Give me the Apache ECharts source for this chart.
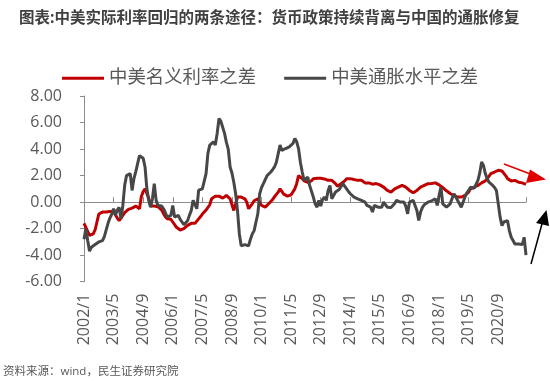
<!DOCTYPE html>
<html>
<head>
<meta charset="utf-8">
<script src="https://cdn.jsdelivr.net/npm/echarts@6/dist/echarts.min.js"></script>
<style>
html,body{margin:0;padding:0;background:#fff;}
#chart{width:550px;height:381px;}
</style>
</head>
<body>
<div id="chart"></div>
<script>
// ---- Data ----
const titleText = '图表:中美实际利率回归的两条途径：货币政策持续背离与中国的通胀修复';
const sourceText = '资料来源：wind，民生证券研究院';
const seriesNames = ['中美名义利率之差', '中美通胀水平之差'];
const startYear = 2002, monthCount = 240, labelEvery = 16;
const categories = [];
for (let i = 0; i < monthCount; i++) {
  categories.push((startYear + Math.floor(i / 12)) + '/' + (i % 12 + 1));
}
const yTicks = [-6, -4, -2, 0, 2, 4, 6, 8];

// 中美名义利率之差 (monthly, 2002/1 - 2021/12)
const nominalDiff = [
  -1.6, -1.9, -2.2, -2.5, -2.65, -2.4, -2.1, -1.5, -0.9, -0.8, -0.75, -0.8,
  -0.75, -0.7, -0.7, -0.75, -0.7, -0.55, -1.2, -1.4, -1.5, -1.0, -0.8, -0.65,
  -0.55, -0.5, -0.45, -0.4, -0.3, -0.35, -0.5, 0.4, 0.8, 1.0, 0.9, 0.3,
  -0.3, -0.4, -0.3, -0.3, -0.35, -0.4, -0.6, -0.87, -1.1, -1.26, -1.2, -1.3,
  -1.5, -1.7, -1.9, -2.0, -2.1, -2.05, -2.0, -1.85, -1.75, -1.7, -1.6, -1.6,
  -1.6, -1.45, -1.26, -1.1, -0.9, -0.75, -0.6, -0.45, -0.2, 0.25, 0.35, 0.45,
  0.5, 0.45, 0.38, 0.3, 0.25, 0.5, 0.38, 0.25, 0.13, -0.63, -0.6, 0.38,
  0.38, 0.38, 0.3, 0.25, 0.0, -0.5, -0.3, -0.13, 0.1, 0.15, 0.25, 0.0,
  -0.25, -0.3, -0.38, -0.25, -0.1, 0.0, 0.2, 0.4, 0.5, 0.75, 1.0, 0.9,
  0.6, 0.5, 0.45, 0.44, 0.55, 0.63, 1.0, 1.39, 2.0, 1.9, 1.77, 1.6,
  1.55, 1.5, 1.5, 1.6, 1.77, 1.75, 1.8, 1.77, 1.8, 1.89, 1.75, 1.64,
  1.64, 1.6, 1.64, 1.5, 1.39, 1.2, 1.13, 1.39, 1.5, 1.6, 1.77, 1.75,
  1.77, 1.77, 1.7, 1.64, 1.64, 1.64, 1.64, 1.5, 1.45, 1.39, 1.45, 1.5,
  1.35, 1.26, 1.4, 1.5, 1.3, 1.26, 1.13, 1.0, 0.88, 0.8, 0.76, 0.85,
  1.0, 1.05, 1.13, 1.2, 1.26, 1.2, 1.13, 1.0, 0.88, 0.8, 0.7, 0.76,
  0.88, 1.0, 1.13, 1.2, 1.26, 1.35, 1.39, 1.39, 1.4, 1.5, 1.45, 1.39,
  1.3, 1.26, 1.1, 1.0, 0.85, 0.76, 0.65, 0.6, 0.5, 0.45, 0.38, 0.38,
  0.38, 0.45, 0.5, 0.65, 0.76, 1.0, 1.05, 1.13, 1.2, 1.26, 1.35, 1.45,
  1.5, 1.6, 1.77, 1.95, 2.15, 2.2, 2.27, 2.35, 2.4, 2.4, 2.35, 2.2,
  2.0, 1.77, 1.65, 1.6, 1.62, 1.64, 1.55, 1.5, 1.5, 1.45, 1.34, 1.34
];

// 中美通胀水平之差 (monthly, 2002/1 - 2021/12)
const inflationDiff = [
  -2.8, -2.0, -2.9, -3.7, -3.4, -3.4, -3.2, -3.1, -3.0, -3.0, -2.9, -2.6,
  -2.1, -1.6, -1.2, -0.9, -0.5, -1.0, -0.6, -0.4, -1.26, -0.25, 1.26, 2.0,
  2.1, 2.15, 0.88, 1.77, 2.3, 2.9, 3.5, 3.54, 3.3, 2.65, 1.0, 0.13,
  -0.38, 0.25, 1.39, 0.13, -0.25, -0.25, -0.3, -0.5, -0.8, -1.13, -1.05, -1.0,
  -0.25, -1.13, -1.05, -1.0, -1.3, -1.5, -1.7, -1.77, -1.4, -1.0, -0.63, 0.13,
  0.1, -0.5, 0.9, 0.9, 1.0, 1.13, 2.15, 3.67, 4.3, 4.17, 4.55, 4.3,
  5.18, 6.3, 6.1, 6.05, 5.18, 4.5, 4.0, 2.65, 2.2, 1.5, 0.63, -0.63,
  -2.4, -3.3, -3.25, -3.2, -3.25, -3.3, -2.8, -2.4, -2.15, -1.5, -0.88, 0.63,
  1.1, 1.39, 1.7, 2.0, 2.15, 2.27, 2.45, 2.65, 3.0, 3.1, 4.3, 3.9,
  3.95, 4.04, 4.1, 4.17, 4.3, 4.42, 4.8, 4.55, 4.04, 3.0, 2.27, 1.64,
  1.64, 1.89, 1.26, 1.13, 0.38, -0.13, -0.38, 0.13, -0.3, 0.2, 0.38, 0.13,
  0.88, 1.26, 0.25, 0.38, 0.76, 0.88, 0.95, 1.0, 1.39, 1.5, 1.0, 0.8,
  0.63, 0.5, 0.38, 0.5, 0.25, 0.13, 0.13, 0.13, 0.0, -0.25, -0.3, -0.38,
  -0.75, -0.25, -0.35, -0.38, -0.38, -0.38, 0.0, -0.2, -0.38, -0.5, -0.4, -0.25,
  -0.1, 0.13, 0.25, 0.0, -0.13, 0.0, -0.3, -0.88, 0.0, -0.13, 0.13, -0.25,
  -0.63, -1.39, -0.75, -0.4, -0.2, -0.13, 0.0, 0.13, 0.1, 0.2, 0.25, -0.25,
  0.5, 1.13, -0.13, -0.25, -0.38, -0.3, -0.13, 0.25, 0.63, 0.4, 0.25, -0.13,
  -0.38, -0.5, 0.38, 0.7, 0.88, 1.13, 1.0, 1.05, 1.13, 1.64, 2.2, 3.03,
  2.77, 2.15, 1.77, 1.5, 1.39, 1.26, 1.1, 0.88, -0.13, -1.13, -1.77, -1.5,
  -1.45, -1.39, -2.15, -2.65, -2.9, -3.16, -3.28, -3.16, -3.28, -3.2, -2.65, -4.0
];

// ---- Chart ----
const FONT = '"Open Sans", "Noto Sans CJK SC", sans-serif';
const chart = echarts.init(document.getElementById('chart'), null, {renderer: 'canvas'});
const lastIdx = monthCount - 1;
const option = {
  animation: false,
  backgroundColor: '#ffffff',
  title: {
    text: titleText,
    left: 14, top: 6,
    textStyle: {fontFamily: FONT, fontSize: 15.5, fontWeight: 'bold', color: '#404040'}
  },
  legend: {
    data: seriesNames,
    left: 57, top: 64,
    icon: 'rect',
    itemWidth: 42, itemHeight: 3, itemGap: 28,
    textStyle: {fontFamily: FONT, fontSize: 18.4, color: '#595959'}
  },
  grid: {left: 84, right: 24, top: 96, bottom: 99.3, containLabel: false},
  xAxis: [
    {
      type: 'category', data: categories, boundaryGap: false,
      axisLine: {onZero: true, lineStyle: {color: '#8c8c8c', width: 1}},
      axisTick: {show: true, inside: true, length: 5, interval: (i) => i % labelEvery === 0 || i === lastIdx,
        lineStyle: {color: '#8c8c8c'}},
      axisLabel: {show: false},
      splitLine: {show: false}
    },
    {
      type: 'category', data: categories, boundaryGap: false, position: 'bottom',
      axisLine: {show: false, onZero: false},
      axisTick: {show: false},
      axisLabel: {show: true, interval: (i) => i % labelEvery === 0, rotate: 90, margin: 12,
        fontFamily: FONT, fontSize: 16, color: '#595959'},
      splitLine: {show: false}
    }
  ],
  yAxis: {
    type: 'value', min: yTicks[0], max: yTicks[yTicks.length - 1], interval: 2,
    axisLine: {show: true, lineStyle: {color: '#8c8c8c'}},
    axisTick: {show: true, length: 4, lineStyle: {color: '#8c8c8c'}},
    axisLabel: {formatter: (v) => v.toFixed(2), margin: 22, fontFamily: FONT, fontSize: 16, color: '#595959'},
    splitLine: {show: false}
  },
  series: [
    {
      name: seriesNames[0], type: 'line', data: nominalDiff, xAxisIndex: 0,
      symbol: 'none', lineStyle: {color: '#c00000', width: 3}, itemStyle: {color: '#c00000'}
    },
    {
      name: seriesNames[1], type: 'line', data: inflationDiff, xAxisIndex: 0,
      symbol: 'none', lineStyle: {color: '#474747', width: 3}, itemStyle: {color: '#474747'}
    }
  ],
  graphic: [
    {type: 'text', left: 3, top: 366, style: {text: sourceText, fontFamily: FONT, fontSize: 11.5, fill: '#595959'}},
    // red annotation arrow
    {type: 'line', shape: {x1: 504, y1: 164, x2: 533, y2: 175}, style: {stroke: '#e00000', lineWidth: 1.5}},
    {type: 'polygon', shape: {points: [[546, 179.5], [530, 169.5], [526, 183]]}, style: {fill: '#e00000'}},
    // black annotation arrow
    {type: 'line', shape: {x1: 531, y1: 264, x2: 542.5, y2: 222}, style: {stroke: '#000000', lineWidth: 1.5}},
    {type: 'polygon', shape: {points: [[546.5, 210], [536, 223], [549, 226]]}, style: {fill: '#000000'}}
  ]
};
chart.setOption(option);
</script>
</body>
</html>
